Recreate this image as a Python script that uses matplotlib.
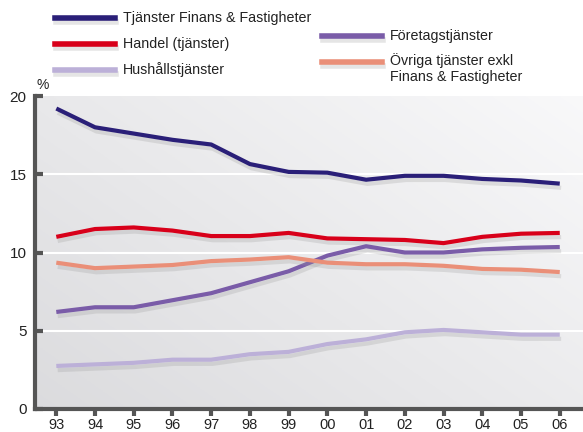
import numpy as np
import matplotlib
matplotlib.use("Agg")
import matplotlib.pyplot as plt
from matplotlib.lines import Line2D
import matplotlib.patheffects as pe

years = ["93", "94", "95", "96", "97", "98", "99", "00", "01", "02", "03", "04", "05", "06"]

finans = [19.2, 18.0, 17.6, 17.2, 16.9, 15.65, 15.15, 15.1, 14.65, 14.9, 14.9, 14.7, 14.6, 14.4]
handel = [11.0, 11.5, 11.6, 11.4, 11.05, 11.05, 11.25, 10.9, 10.85, 10.8, 10.6, 11.0, 11.2, 11.25]
foretag = [6.2, 6.5, 6.5, 6.95, 7.4, 8.1, 8.8, 9.8, 10.4, 10.0, 10.0, 10.2, 10.3, 10.35]
ovriga = [9.35, 9.0, 9.1, 9.2, 9.45, 9.55, 9.7, 9.35, 9.25, 9.25, 9.15, 8.95, 8.9, 8.75]
hushall = [2.75, 2.85, 2.95, 3.15, 3.15, 3.5, 3.65, 4.15, 4.45, 4.9, 5.05, 4.9, 4.75, 4.75]

labels = ["Tjänster Finans & Fastigheter", "Handel (tjänster)", "Hushållstjänster",
          "Företagstjänster", "Övriga tjänster exkl\nFinans & Fastigheter"]
series = [finans, handel, hushall, foretag, ovriga]
colors = ["#2a1f78", "#d8001a", "#bcb0d8", "#7a5ca8", "#ea8f78"]

plt.rcParams['font.family'] = ['Liberation Sans', 'DejaVu Sans']

W, H = 583, 432
fig = plt.figure(figsize=(W / 100, H / 100), dpi=100)
ax = fig.add_axes([35 / W, (H - 409) / H, (W - 35) / W, (409 - 96) / H])

x = np.arange(len(years))
xmin, xmax = -0.55, len(years) - 1 + 0.6

# gradient background
gx, gy = np.meshgrid(np.linspace(0, 1, 200), np.linspace(0, 1, 200))
g = 0.55 * gx + 0.45 * gy
g = g / g.max()
lo, hi = np.array([0.86, 0.86, 0.87]), np.array([0.975, 0.975, 0.98])
img = lo[None, None, :] + (hi - lo)[None, None, :] * g[..., None]
ax.imshow(img, extent=[xmin, xmax, 0, 20], origin='lower', aspect='auto', zorder=0)

for yv in [5, 10, 15]:
    ax.axhline(yv, color='white', lw=1.5, zorder=1)

shadow = [pe.SimpleLineShadow(offset=(1, -3), shadow_color='#999999', alpha=0.25), pe.Normal()]
for s, c in zip(series, colors):
    ax.plot(x, s, color=c, lw=3, zorder=3, solid_capstyle='butt', path_effects=shadow)

ax.set_xlim(xmin, xmax)
ax.set_ylim(0, 20)
ax.set_xticks(x)
ax.set_xticklabels(years)
ax.set_yticks([0, 5, 10, 15, 20])
for sp in ['top', 'right']:
    ax.spines[sp].set_visible(False)
for sp in ['left', 'bottom']:
    ax.spines[sp].set_color('#555555')
    ax.spines[sp].set_linewidth(3)
ax.tick_params(axis='y', direction='in', length=6, width=3, color='#555555',
               labelsize=11, labelcolor='#222222', pad=6)
ax.tick_params(axis='x', direction='out', length=5, width=3, color='#555555',
               labelsize=10.5, labelcolor='#222222', pad=1.5)
ax.text(43 / W, 1 - 85 / H, "%", transform=fig.transFigure, ha='center', va='center',
        fontsize=10, color='#222222')

# legend
pos = [(55, 18), (55, 44), (55, 70), (322, 36), (322, 62)]
for (px, py), lab, c in zip(pos, labels, colors):
    ln = Line2D([px / W, (px + 60) / W], [1 - py / H, 1 - py / H], transform=fig.transFigure,
                color=c, lw=4, path_effects=shadow)
    fig.add_artist(ln)
    va = 'center'
    ty = py
    if "\n" in lab:
        va = 'top'
        ty = py - 9
    fig.text((px + 68) / W, 1 - ty / H, lab, ha='left', va=va, fontsize=10.3,
             color='#222222', linespacing=1.2)

fig.savefig("out.png", dpi=100, facecolor='white')
